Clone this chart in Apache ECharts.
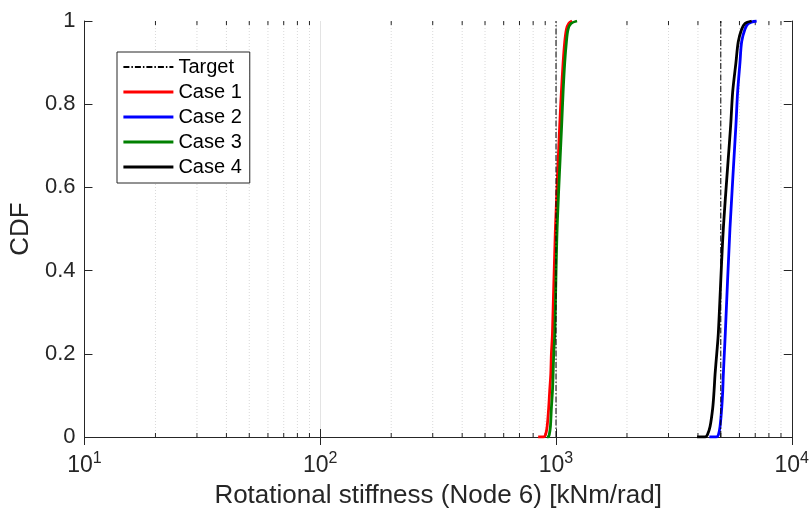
<!DOCTYPE html>
<html>
<head>
<meta charset="utf-8">
<script src="https://cdn.jsdelivr.net/npm/echarts@6/dist/echarts.min.js"></script>
<style>
  html, body { margin: 0; padding: 0; background: #fff; }
  #chart { width: 812px; height: 516px; }
</style>
</head>
<body>
<div id="chart"></div>
<script>
// CDF levels shared by every curve (first two points are the flat tail at 0)
var cdfLevels = [0, 0, 0.005, 0.025, 0.07, 0.11, 0.15, 0.2, 0.25, 0.5, 0.75, 0.83, 0.9, 0.95, 0.98, 0.994, 1];

// stiffness values [kNm/rad] at each CDF level
var case1 = [840, 882, 902, 917, 931, 940, 950, 956, 966, 994, 1037, 1054, 1072, 1089, 1107, 1132, 1170];
var case2 = [4472, 4774, 4882, 4963, 5046, 5095, 5125, 5175, 5226, 5467, 5797, 5894, 6030, 6130, 6330, 6537, 7096];
var case3 = [915, 928, 936, 947, 956, 966, 972, 978, 988, 1011, 1057, 1072, 1089, 1107, 1125, 1158, 1228];
var case4 = [3967, 4287, 4386, 4503, 4622, 4681, 4727, 4806, 4882, 5125, 5508, 5617, 5797, 5930, 6130, 6330, 6760];

var targets = [1000, 5000];
var caseNames = ['Case 1', 'Case 2', 'Case 3', 'Case 4'];
var caseColors = ['#ff0000', '#0000ff', '#008000', '#000000'];

// minor log grid positions
var minorTicks = [20, 30, 40, 50, 60, 70, 80, 90,
  200, 300, 400, 500, 600, 700, 800, 900,
  2000, 3000, 4000, 5000, 6000, 7000, 8000, 9000];

var axisColor = '#262626';
var font = "'Liberation Sans', Arial, sans-serif";

function pairs(xs) {
  return xs.map(function (x, i) { return [x, cdfLevels[i]]; });
}

var series = [];

// minor grid lines + minor ticks on top/bottom edges
series.push({
  type: 'custom',
  silent: true,
  z: 1,
  data: minorTicks.map(function (v) { return [v, 0]; }),
  encode: { x: 0, y: 1 },
  renderItem: function (params, api) {
    var v = api.value(0);
    var b = api.coord([v, 0]);
    var t = api.coord([v, 1]);
    return {
      type: 'group',
      children: [
        { type: 'line', shape: { x1: b[0], y1: b[1], x2: t[0], y2: t[1] },
          style: { stroke: '#d9d9d9', lineWidth: 1, lineDash: [1, 2] } },
        { type: 'line', shape: { x1: b[0], y1: b[1], x2: b[0], y2: b[1] - 4 },
          style: { stroke: axisColor, lineWidth: 1 } },
        { type: 'line', shape: { x1: t[0], y1: t[1], x2: t[0], y2: t[1] + 4 },
          style: { stroke: axisColor, lineWidth: 1 } }
      ]
    };
  }
});

targets.forEach(function (t) {
  series.push({
    name: 'Target',
    type: 'line',
    data: [[t, 0], [t, 1]],
    symbol: 'none',
    z: 3,
    lineStyle: { color: '#000', width: 1, type: [6, 2, 1.5, 2] },
    itemStyle: { color: '#000' }
  });
});

[case1, case2, case3, case4].forEach(function (xs, i) {
  series.push({
    name: caseNames[i],
    type: 'line',
    data: pairs(xs),
    symbol: 'none',
    smooth: 0.3,
    z: 2,
    lineStyle: { color: caseColors[i], width: 2.8 },
    itemStyle: { color: caseColors[i] }
  });
});

var legendData = [{ name: 'Target' }].concat(caseNames.map(function (n) {
  return { name: n, lineStyle: { width: 2.8 } };
}));

var chart = echarts.init(document.getElementById('chart'));
chart.setOption({
  animation: false,
  backgroundColor: '#fff',
  textStyle: { fontFamily: font },
  grid: { left: 83, right: 20, top: 21, bottom: 79 },
  legend: {
    data: legendData,
    orient: 'vertical',
    left: 117,
    top: 52,
    padding: [5, 8, 6, 5],
    itemWidth: 50,
    itemHeight: 14,
    itemGap: 5,
    backgroundColor: '#fff',
    borderColor: axisColor,
    borderWidth: 1,
    itemStyle: { opacity: 0 },
    textStyle: { fontSize: 20, color: '#000', lineHeight: 20, fontFamily: font }
  },
  xAxis: [{
    type: 'log',
    logBase: 10,
    min: 10,
    max: 10000,
    name: 'Rotational stiffness (Node 6) [kNm/rad]',
    nameLocation: 'middle',
    nameGap: 45,
    nameTextStyle: { fontSize: 26, color: axisColor, fontFamily: font },
    axisLine: { lineStyle: { color: axisColor, width: 1 } },
    axisTick: { inside: true, length: 8, lineStyle: { color: axisColor } },
    splitLine: { show: true, lineStyle: { color: '#e3e3e3', width: 1 } },
    axisLabel: {
      margin: 14,
      color: axisColor,
      formatter: function (v) {
        return '{b|10}{s|' + Math.round(Math.log10(v)) + '}';
      },
      rich: {
        b: { fontSize: 23, lineHeight: 30, color: axisColor, fontFamily: font },
        s: { fontSize: 16, verticalAlign: 'top', color: axisColor, fontFamily: font }
      }
    }
  }, {
    type: 'log',
    logBase: 10,
    min: 10,
    max: 10000,
    position: 'top',
    axisLine: { lineStyle: { color: axisColor, width: 1 } },
    axisTick: { inside: true, length: 8, lineStyle: { color: axisColor } },
    axisLabel: { show: false },
    splitLine: { show: false }
  }],
  yAxis: [{
    type: 'value',
    min: 0,
    max: 1,
    interval: 0.2,
    name: 'CDF',
    nameLocation: 'middle',
    nameGap: 42,
    nameTextStyle: { fontSize: 26, color: axisColor, fontFamily: font },
    axisLine: { show: true, lineStyle: { color: axisColor, width: 1 } },
    axisTick: { show: true, inside: true, length: 8, lineStyle: { color: axisColor } },
    splitLine: { show: false },
    axisLabel: { margin: 9, fontSize: 22, color: axisColor, fontFamily: font }
  }, {
    type: 'value',
    min: 0,
    max: 1,
    interval: 0.2,
    position: 'right',
    axisLine: { show: true, lineStyle: { color: axisColor, width: 1 } },
    axisTick: { show: true, inside: true, length: 8, lineStyle: { color: axisColor } },
    splitLine: { show: false },
    axisLabel: { show: false }
  }],
  series: series
});

window.addEventListener('resize', function () {
  chart.resize();
});
</script>
</body>
</html>
